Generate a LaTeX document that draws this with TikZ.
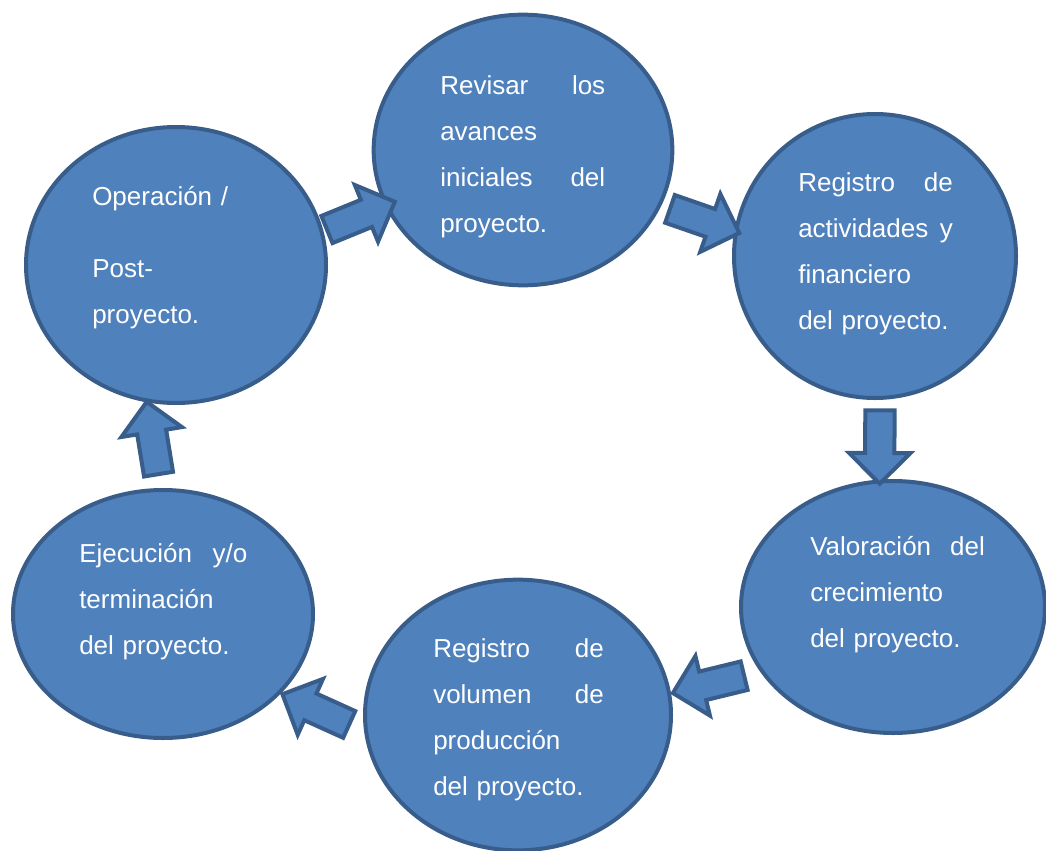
\documentclass[tikz,border=0pt]{standalone}
\usepackage{fontspec}
\setmainfont{Liberation Sans}
\usetikzlibrary{shapes.geometric,shapes.arrows}
\definecolor{fillblue}{HTML}{4F81BD}
\definecolor{lineblue}{HTML}{385D8A}

\begin{document}
\begin{tikzpicture}[x=0.75pt, y=-0.75pt,
		circ/.style={ellipse, draw=lineblue, fill=fillblue, line width=3pt, inner sep=0pt},
		blockarrow/.style={single arrow, draw=lineblue, fill=fillblue, line width=3pt, inner sep=0pt, inner ysep=9.5pt, single arrow head extend=12pt, minimum height=55pt, sloped, allow upside down},
		txt/.style={anchor=base west, text=white, inner sep=0pt, text width=#1, align=left, font=\fontsize{19.5pt}{34.5pt}\selectfont}]
			%%%%% START %%%%%
			
			\useasboundingbox (0, 0) rectangle (1046, 850);
			
			\node[circ, minimum width=225pt, minimum height=207pt] (op) at (176, 265) {};
			\node[circ, minimum width=224pt, minimum height=203pt] (rev) at (523, 150) {};
			\node[circ, minimum width=211.5pt, minimum height=213pt] (reg) at (875, 256) {};
			\node[circ, minimum width=228pt, minimum height=189pt] (val) at (893, 607) {};
			\node[circ, minimum width=229.5pt, minimum height=203pt] (vol) at (518, 715) {};
			\node[circ, minimum width=225pt, minimum height=186pt] (eje) at (163, 614) {};
			
			\node[txt=130pt] (txtop) at (92, 205) {Operación /\\[19.5pt]Post-\\proyecto.};
			\node[txt=123.75pt] (txtrev) at (440, 94) {Revisar\hfill los\\avances\\iniciales\hfill del\\proyecto.};
			\node[txt=116pt] (txtreg) at (798, 191) {Registro\hfill de\\actividades\hfill y\\financiero\\del proyecto.};
			\node[txt=131pt] (txtval) at (810, 555) {Valoración\hfill del\\crecimiento\\del proyecto.};
			\node[txt=128pt] (txtvol) at (433, 657) {Registro\hfill de\\volumen\hfill de\\producción\\del proyecto.};
			\node[txt=126pt] (txteje) at (79, 562) {Ejecución\hfill y/o\\terminación\\del proyecto.};
			
			\path (op.13) -- node[blockarrow] (a1) {} (rev.202);
			\path (rev.338) -- node[blockarrow] (a2) {} (reg.170);
			\path (reg.272) -- node[blockarrow] (a3) {} (val.96);
			\path (val.206) -- node[blockarrow] (a4) {} (vol.8);
			\path (vol.186) -- node[blockarrow] (a5) {} (eje.326);
			\path (eje.91) -- node[blockarrow] (a6) {} (op.258);
			
			%%%%% END %%%%%
\end{tikzpicture}
\end{document}
